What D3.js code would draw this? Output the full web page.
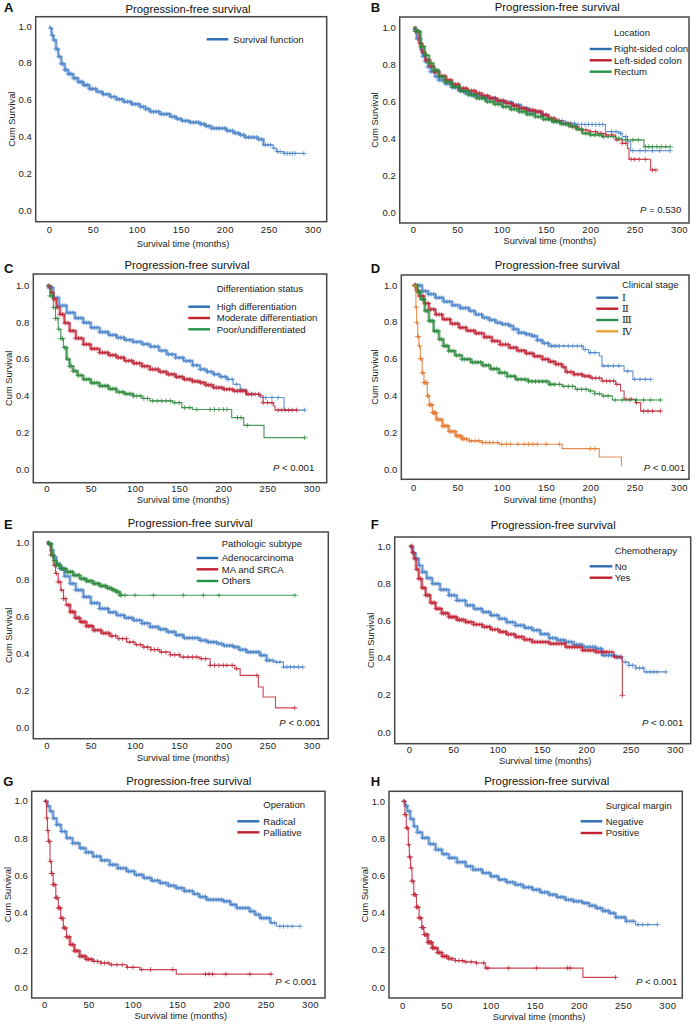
<!DOCTYPE html>
<html><head><meta charset="utf-8">
<script src="https://cdn.jsdelivr.net/npm/d3@7"></script>
<style>
body{margin:0;background:#fff}
svg{display:block;font-family:"Liberation Sans",Arial,sans-serif}
</style>
</head><body>
<svg id="c" width="698" height="1024"></svg>
<script>
// ---------- tick labels ----------
const xTicks = [0, 50, 100, 150, 200, 250, 300];
const yTicks = [0, 0.2, 0.4, 0.6, 0.8, 1.0];
const panelTitle = "Progression-free survival";
const xTitle = "Survival time (months)";
const yTitle = "Cum Survival";

// Each curve: step knots [month, survival]; *_c = censor-mark months that are
// individually visible; *_band = month range where censor marks are too dense to separate.

// ---------- A ----------
const A_all = [[0,1],[1,0.987],[3,0.95],[5,0.924],[8,0.875],[10.6,0.834],[14,0.795],[18,0.762],[22,0.74],[27.7,0.717],[33,0.697],[39,0.68],[46,0.66],[54,0.644],[61,0.63],[69,0.617],[77,0.603],[84.6,0.59],[94,0.577],[103.5,0.563],[110,0.55],[115,0.536],[126,0.523],[137.6,0.509],[145,0.497],[151,0.487],[160,0.478],[172,0.469],[178,0.458],[185,0.446],[202,0.433],[210,0.42],[217,0.41],[223,0.397],[238,0.386],[244,0.356],[255,0.338],[259,0.32],[267,0.31],[290,0.31]];
const A_all_c = [2,4,6,8,10,12,14,16,18,20,22,24,26,28,30,32,34,36,38,40,42,44,46,48,50,53,56,59,62,65,68,71,74,77,80,83,86,89,92,95,98,101,104,107,110,113,116,119,122,125,128,131,134,137,140,143,146,149,152,155,158,161,164,167,170,173,176,179,182,185,188,191,194,197,200,203,206,209,212,215,218,221,224,227,230,233,236,239,242,246,249,252,256,260,263,268,271,274,277,280,290];
const A_all_band = [1, 245];

// ---------- B: Location ----------
const B_right = [[0,1],[1,0.99],[4,0.94],[8.6,0.879],[11,0.845],[14,0.816],[17,0.787],[20,0.761],[25,0.735],[29,0.716],[36,0.695],[44,0.676],[51,0.66],[59,0.644],[68,0.63],[78,0.617],[93,0.603],[102,0.595],[112,0.581],[122,0.563],[131,0.545],[146,0.526],[152,0.51],[157,0.495],[172,0.481],[183,0.475],[214,0.475],[217,0.436],[232,0.427],[236,0.409],[242,0.382],[245.5,0.333],[290,0.333]];
const B_left = [[0,1],[3,0.98],[6.8,0.915],[10,0.865],[14,0.825],[19,0.79],[24,0.761],[30,0.737],[37,0.716],[44,0.693],[52,0.671],[61,0.657],[71,0.644],[78,0.63],[86,0.617],[95,0.603],[104.5,0.59],[112,0.576],[119.5,0.562],[128,0.553],[138,0.544],[145,0.527],[153,0.508],[160,0.495],[168,0.481],[178,0.462],[187,0.445],[198.5,0.436],[208,0.427],[217,0.418],[228.6,0.391],[236,0.373],[242,0.345],[243.6,0.286],[267,0.286],[268,0.228],[274,0.228]];
const B_rect = [[0,1],[3,0.98],[8.6,0.897],[13,0.85],[18,0.807],[23,0.77],[29,0.734],[36,0.705],[44,0.68],[53,0.656],[63,0.635],[72,0.617],[82,0.599],[91,0.585],[100.8,0.571],[110,0.557],[119.5,0.544],[128,0.53],[138,0.517],[147,0.503],[157,0.49],[166,0.478],[176,0.467],[184,0.45],[191,0.427],[200,0.418],[213.5,0.409],[228.6,0.4],[236,0.391],[260.5,0.354],[290,0.354]];
const B_right_c = [2,5,8,11,14,17,20,23,26,29,32,35,38,41,44,47,50,53,56,59,62,65,68,71,74,77,80,83,86,89,92,95,98,101,104,107,110,113,116,119,122,125,128,131,134,137,140,143,146,150,154,158,163,168,173,178,182,186,190,194,198,202,206,210,214,224,229,234,240,248,256,262,270,278,290];
const B_left_c = [3,6,9,12,15,18,21,24,27,30,33,36,39,42,45,48,51,54,57,60,63,66,69,72,75,78,81,84,87,90,93,96,99,102,105,108,111,114,117,120,123,126,129,132,135,138,141,144,147,150,153,156,159,162,165,170,175,180,185,190,195,200,206,212,218,224,230,236,240,246,250,255,262,270,274];
const B_rect_c = [3,6,9,12,15,18,21,24,27,30,33,36,39,42,45,48,51,54,57,60,63,66,69,72,75,78,81,84,87,90,93,96,99,102,105,108,111,114,117,120,123,126,129,132,135,138,141,144,147,150,153,156,159,162,165,168,172,176,180,185,190,195,200,205,210,215,220,226,232,240,248,254,262,266,270,275,280,285,290];
const B_right_band = [1, 150], B_left_band = [1, 165], B_rect_band = [1, 215];

// ---------- C: Differentiation ----------
const C_high = [[0,1],[2,0.987],[7.5,0.933],[14,0.89],[22.6,0.851],[32,0.822],[41.5,0.797],[50,0.77],[60,0.746],[70,0.73],[79,0.716],[88,0.703],[98,0.692],[108,0.68],[117,0.667],[127,0.645],[136,0.625],[146,0.607],[155,0.589],[165,0.565],[173.6,0.543],[181,0.53],[188.7,0.516],[196,0.503],[204,0.489],[211,0.462],[219,0.435],[226,0.408],[241.5,0.39],[268.7,0.322],[292,0.322]];
const C_mod = [[0,1],[2,0.996],[4.5,0.96],[7.5,0.924],[11,0.88],[15,0.842],[20,0.795],[26,0.752],[33,0.712],[41.5,0.679],[50,0.655],[60,0.634],[70,0.62],[79,0.607],[88,0.59],[98,0.576],[108,0.56],[117,0.543],[127,0.53],[136,0.516],[146,0.502],[155,0.489],[165,0.478],[173.6,0.471],[180,0.458],[188.7,0.444],[200,0.435],[211,0.426],[226,0.408],[241.5,0.399],[245,0.362],[256.6,0.344],[258.5,0.322],[283,0.322]];
const C_poor = [[0,1],[3.8,0.942],[7.5,0.879],[10,0.82],[13,0.761],[16,0.71],[19,0.661],[22.6,0.598],[26,0.56],[30,0.534],[35,0.51],[41.5,0.489],[50,0.47],[60,0.453],[70,0.437],[79,0.42],[88,0.41],[98,0.399],[108,0.385],[117,0.372],[143,0.362],[153,0.335],[165,0.325],[209.4,0.281],[223,0.239],[246,0.172],[292,0.172]];
const C_high_c = [3,6,9,12,15,18,21,24,27,30,33,36,39,42,45,48,51,54,57,60,63,66,69,72,75,78,81,84,87,90,94,98,102,106,110,114,118,122,126,130,134,138,142,146,150,154,158,162,166,170,174,178,182,186,190,194,198,202,206,210,215,220,232,240,248,255,262,292];
const C_mod_c = [3,6,9,12,15,18,21,24,27,30,33,36,39,42,45,48,51,54,57,60,63,66,69,72,75,78,81,84,87,90,93,96,99,102,105,108,111,114,117,120,123,126,129,132,135,138,141,144,147,150,153,156,159,162,165,168,171,174,177,180,183,186,189,192,195,198,201,204,207,210,213,216,219,222,225,228,232,236,240,245,250,255,262,266,270,274,278,283];
const C_poor_c = [4,6,8,10,12,14,16,18,20,22,24,26,28,30,33,36,39,42,45,48,51,54,57,60,63,66,69,72,75,78,82,86,90,94,98,102,106,110,114,120,125,130,135,140,145,150,156,162,170,185,190,195,200,204,216,220,227,292];
const C_high_band = [1, 205], C_mod_band = [1, 235], C_poor_band = [20, 100];

// ---------- D: Clinical stage ----------
const D_s1 = [[0,1],[1,0.998],[10,0.967],[17,0.95],[25,0.931],[34,0.91],[44,0.89],[53,0.875],[63,0.859],[70,0.84],[78,0.823],[86,0.81],[93,0.796],[100,0.787],[108,0.778],[113,0.76],[119,0.741],[127,0.732],[134,0.723],[140,0.7],[146,0.684],[153,0.669],[187,0.669],[192,0.65],[198,0.633],[210,0.615],[213,0.561],[238,0.533],[248,0.488],[268,0.488]];
const D_s2 = [[0,1],[1,1],[3,0.97],[6.4,0.94],[12,0.9],[17.7,0.868],[25,0.84],[33,0.814],[42,0.79],[51.6,0.769],[60,0.752],[70,0.738],[80,0.717],[89,0.696],[98,0.677],[108,0.66],[117,0.644],[127,0.629],[136,0.613],[146,0.597],[153,0.584],[160.7,0.57],[168,0.555],[172,0.528],[181,0.515],[191,0.506],[200,0.495],[213,0.479],[228.5,0.461],[234,0.425],[238,0.38],[251,0.362],[256.7,0.316],[279,0.316]];
const D_s3 = [[0,1],[2,0.995],[5,0.96],[8.3,0.922],[13,0.86],[17.7,0.805],[23,0.75],[29,0.705],[34,0.67],[40,0.642],[47,0.618],[55,0.597],[65,0.58],[78,0.564],[87,0.545],[97,0.524],[106,0.505],[115.5,0.488],[130,0.477],[153,0.461],[168,0.45],[183,0.434],[198,0.425],[205,0.41],[213,0.398],[224.7,0.376],[279,0.376]];
const D_s4 = [[0,1],[2,0.995],[3,0.88],[3.8,0.796],[5,0.72],[6.4,0.669],[8,0.6],[10,0.524],[12,0.47],[15.8,0.398],[18,0.35],[21.5,0.307],[26,0.27],[33,0.235],[40,0.205],[48,0.181],[55,0.165],[63,0.154],[78,0.145],[97,0.136],[168,0.112],[210,0.067],[235,0.018]];
const D_s1_c = [2,5,8,11,14,17,20,23,26,29,32,35,38,41,44,47,50,53,56,59,62,65,68,71,74,77,80,83,86,89,92,95,98,101,104,107,110,113,116,119,122,125,128,131,134,137,140,144,148,152,156,160,165,170,175,180,185,190,194,200,205,215,220,226,232,242,250,256,262,268];
const D_s2_c = [2,5,8,11,14,17,20,23,26,29,32,35,38,41,44,47,50,53,56,59,62,65,68,71,74,77,80,83,86,89,92,95,98,101,104,107,110,113,116,119,122,125,128,131,134,137,140,143,146,149,152,155,158,161,164,167,170,174,178,182,186,190,194,198,202,206,210,214,218,222,226,230,240,246,252,260,265,270,279];
const D_s3_c = [2,4,6,8,10,12,14,16,18,20,22,24,26,28,30,32,34,36,38,40,43,46,49,52,55,58,61,64,67,70,73,76,79,82,85,88,91,94,97,100,103,106,110,114,118,122,126,130,134,138,142,146,150,155,160,165,170,175,180,185,190,195,200,205,210,215,220,228,236,244,252,260,268,279];
const D_s4_c = [2,3,4,5,6,7,8,9,10,11,12,13,14,15,16,17,18,19,20,21,22,23,24,25,27,29,31,33,35,37,39,41,43,45,47,49,51,53,55,57,60,63,66,70,74,78,82,86,90,95,100,105,110,118,125,130,135,140,150,165,200,205];
const D_s1_band = [1, 165], D_s2_band = [1, 200], D_s3_band = [1, 160], D_s4_band = [22, 60];

// ---------- E: Pathologic subtype ----------
const E_adeno = [[0,1],[2,0.99],[4.5,0.955],[7.5,0.919],[11,0.885],[15,0.856],[20,0.815],[26.4,0.775],[33,0.74],[41.5,0.703],[50,0.67],[60,0.64],[70,0.62],[79,0.604],[88,0.59],[98,0.577],[108,0.56],[117,0.541],[127,0.528],[136,0.514],[146,0.497],[155,0.481],[173.6,0.468],[182,0.459],[192.5,0.45],[200,0.44],[211,0.432],[218,0.418],[226,0.405],[241.5,0.387],[249,0.36],[256.6,0.351],[268,0.324],[290.6,0.324]];
const E_ma = [[0,1],[2,0.99],[4.5,0.93],[7.5,0.874],[10,0.83],[13,0.784],[16,0.74],[19,0.694],[22,0.66],[26.4,0.622],[32,0.59],[37.7,0.568],[45,0.545],[52.8,0.523],[62,0.507],[71.7,0.492],[80,0.478],[90.6,0.459],[100,0.445],[109,0.432],[118,0.418],[128,0.405],[140,0.39],[151,0.378],[173.6,0.369],[185,0.333],[213,0.315],[219,0.279],[239.6,0.216],[245,0.162],[259,0.103],[281,0.103]];
const E_oth = [[0,1],[2,0.99],[5.7,0.928],[8,0.9],[11,0.874],[16,0.855],[22.6,0.838],[30,0.82],[37.7,0.802],[45,0.789],[52.8,0.775],[60,0.763],[68,0.751],[74,0.74],[79,0.73],[83,0.712],[281,0.712]];
const E_adeno_c = [3,6,9,12,15,18,21,24,27,30,33,36,39,42,45,48,51,54,57,60,63,66,69,72,75,78,81,84,87,90,93,96,99,102,105,108,111,114,117,120,123,126,129,132,135,138,141,144,147,150,153,156,159,162,165,168,171,174,177,180,183,186,189,192,195,198,201,204,207,210,213,216,219,222,225,228,231,234,237,240,243,246,249,252,256,260,264,268,272,276,280,285,290];
const E_ma_c = [3,5,7,9,11,13,15,17,19,21,23,25,27,29,31,33,35,37,39,41,43,45,47,49,51,53,55,58,61,64,67,70,74,78,82,86,90,94,98,102,106,110,114,118,122,126,130,135,140,145,150,155,160,165,170,175,180,185,190,195,200,204,210,215,238,281];
const E_oth_c = [3,5,7,9,11,13,15,17,19,21,23,25,27,29,31,33,35,37,39,41,43,45,47,49,51,53,55,57,59,61,63,65,67,69,71,73,75,77,79,81,83,85,88.7,100,120.8,154.7,177.4,195,281];
const E_adeno_band = [1, 255], E_ma_band = [25, 75], E_oth_band = [1, 84];

// ---------- F: Chemotherapy ----------
const F_no = [[0,1],[2,0.995],[4.5,0.96],[7.5,0.932],[11,0.895],[15,0.86],[20,0.827],[26.3,0.797],[35,0.765],[45,0.735],[54,0.707],[64,0.681],[73,0.662],[82.7,0.645],[92,0.627],[101.5,0.609],[110,0.59],[120,0.573],[130,0.56],[139,0.547],[148,0.526],[158,0.505],[167,0.494],[176.7,0.484],[186,0.47],[195.5,0.457],[210.5,0.448],[218,0.412],[233,0.403],[240.6,0.376],[248,0.358],[255.6,0.344],[265,0.323],[289.5,0.323]];
const F_yes = [[0,1],[2,1],[3.5,0.965],[5.6,0.932],[8,0.875],[11,0.824],[14.5,0.775],[18.8,0.735],[24,0.695],[30,0.663],[37,0.638],[45,0.618],[54,0.603],[64,0.591],[73,0.578],[82.7,0.565],[92,0.551],[101.5,0.538],[110,0.525],[120,0.511],[130,0.497],[139,0.484],[158,0.475],[176.7,0.457],[195.5,0.439],[210.5,0.43],[231,0.403],[240,0.394],[240.6,0.197]];
const F_no_c = [3,6,9,12,15,18,21,24,27,30,33,36,39,42,45,48,51,54,57,60,63,66,69,72,75,78,81,84,87,90,93,96,99,102,105,108,111,114,117,120,123,126,129,132,135,138,141,144,147,150,153,156,159,162,165,168,171,174,177,180,183,186,189,192,195,198,201,204,207,210,213,216,219,222,225,228,231,234,237,240,244,248,252,256,260,264,268,272,276,280,289.5];
const F_yes_c = [3,5,7,9,11,13,15,17,19,21,23,25,27,29,31,33,35,37,39,41,43,45,47,49,51,53,55,57,59,61,64,67,70,73,76,79,82,85,88,91,94,97,100,103,106,109,112,115,118,121,124,127,130,133,136,139,142,145,148,151,154,157,160,163,166,169,172,175,178,181,184,187,190,193,196,199,202,205,208,211,214,217,220,223,226,229,232,235,238,240.6];
const F_no_band = [1, 240], F_yes_band = [1, 225];

// ---------- G: Operation ----------
const G_rad = [[0,1],[1,0.996],[3.5,0.97],[6.4,0.943],[10,0.905],[14,0.871],[19,0.835],[25,0.8],[32,0.772],[40,0.746],[47,0.723],[55,0.702],[64,0.68],[74,0.657],[83,0.638],[93,0.621],[102,0.603],[112,0.586],[121,0.572],[130.6,0.559],[140,0.545],[149,0.532],[158,0.516],[168,0.5],[175,0.485],[183,0.47],[202,0.461],[210,0.443],[217,0.425],[232,0.407],[238,0.39],[243.5,0.371],[255,0.345],[262,0.327],[288.7,0.327]];
const G_pal = [[0,1],[1,0.996],[2.6,0.907],[3.5,0.84],[4.5,0.782],[6.4,0.675],[8,0.61],[10,0.55],[13,0.48],[15.8,0.425],[18.5,0.37],[21.5,0.318],[25,0.27],[29,0.229],[34,0.195],[40,0.166],[47,0.15],[55,0.139],[64,0.13],[74,0.121],[93,0.107],[108,0.095],[149,0.071],[256.7,0.071]];
const G_rad_c = [2,5,8,11,14,17,20,23,26,29,32,35,38,41,44,47,50,53,56,59,62,65,68,71,74,77,80,83,86,89,92,95,98,101,104,107,110,113,116,119,122,125,128,131,134,137,140,143,146,149,152,155,158,161,164,167,170,173,176,179,182,185,188,191,194,197,200,203,206,209,212,215,218,221,224,227,230,233,236,239,242,245,248,251,254,257,260,266,270,275,280,288.7];
const G_pal_c = [2,3,4,5,6,7,8,9,10,11,12,13,14,15,16,17,18,19,20,21,22,23,24,25,26,28,30,32,34,36,38,40,42,44,46,48,50,53,56,60,64,68,72,76,82,88,94,100,110,120,145,182,186,190,205,232,256];
const G_rad_band = [1, 255], G_pal_band = [28, 55];

// ---------- H: Surgical margin ----------
const H_neg = [[0,1],[1,1],[3,0.975],[5.7,0.946],[9,0.905],[13,0.865],[17,0.833],[22.6,0.803],[30,0.77],[37.7,0.74],[45,0.716],[52.8,0.695],[62,0.672],[71.7,0.65],[80,0.632],[90.6,0.614],[100,0.596],[109,0.578],[118,0.564],[128,0.551],[137,0.537],[147,0.524],[156,0.51],[166,0.497],[175,0.484],[185,0.47],[194,0.461],[204,0.452],[212,0.438],[219,0.425],[227,0.41],[234,0.398],[241.5,0.375],[253,0.354],[264,0.336],[288.7,0.336]];
const H_pos = [[0,1],[2,1],[3,0.928],[4.5,0.856],[6.8,0.767],[8,0.7],[9.4,0.641],[11,0.57],[13,0.497],[16,0.43],[19,0.372],[22,0.32],[24.5,0.282],[29,0.24],[34,0.21],[40,0.185],[45,0.165],[52,0.152],[60,0.142],[70,0.135],[83,0.129],[94,0.102],[204.5,0.052],[241.5,0.052]];
const H_neg_c = [2,5,8,11,14,17,20,23,26,29,32,35,38,41,44,47,50,53,56,59,62,65,68,71,74,77,80,83,86,89,92,95,98,101,104,107,110,113,116,119,122,125,128,131,134,137,140,143,146,149,152,155,158,161,164,167,170,173,176,179,182,185,188,191,194,197,200,203,206,209,212,215,218,221,224,227,230,233,236,239,242,245,248,251,254,257,260,262,267,272,278,288.7];
const H_pos_c = [2,3,4,5,6,7,8,9,10,11,12,13,14,15,16,17,18,19,20,21,22,23,24,25,26,27,28,29,30,31,32,33,34,35,36,38,40,42,44,46,48,50,53,56,60,64,68,72,78,84,92,95,97,120,152,187,190,241.5];
const H_neg_band = [1, 255], H_pos_band = [28, 58];

// ---------- colours ----------
const curveCol = {blue:"#4d85cb", red:"#c2283a", green:"#2e8a3d", orange:"#e27b34"};
const legendCol = {blue:"#2c6cb0", red:"#c11f2e", green:"#27914a", orange:"#eba13a"};

// ---------- panels (pixel layout kept apart from the data) ----------
const panels = [
 {id:"A", box:[35.7,16.7,326.7,221.7], xr:[49,312.7], yr:[210.7,26], tickBase:233.3, title:[188,13], letter:[4,12.3], ylab:12.2, xlab:[183,246.7],
  legTitle:null, leg:{x1:206.7,x2:228.3,tx:233.3,ty:null,rows:[39.3]},
  series:[{name:"Survival function",col:"blue",d:A_all,c:A_all_c,b:A_all_band}], p:null},
 {id:"B", box:[399.7,17,689,223], xr:[413,679], yr:[212,27.7], tickBase:233, title:[557.3,10.7], letter:[370.7,11.7], ylab:375, xlab:[549.8,244.2],
  legTitle:"Location", leg:{x1:589.7,x2:611.7,tx:614,ty:35.7,rows:[49,60.3,71.7]},
  series:[{name:"Right-sided colon",col:"blue",d:B_right,c:B_right_c,b:B_right_band},{name:"Left-sided colon",col:"red",d:B_left,c:B_left_c,b:B_left_band},{name:"Rectum",col:"green",d:B_rect,c:B_rect_c,b:B_rect_band}],
  p:{op:" = 0.530", x:681.3, y:213.3}},
 {id:"C", box:[33.3,274,326.7,482.7], xr:[46.7,311.7], yr:[469.3,285.3], tickBase:491.5, title:[187,268.7], letter:[4,272.7], ylab:9, xlab:[183,503],
  legTitle:"Differentiation status", leg:{x1:188.3,x2:210,tx:216.7,ty:292,rows:[306.7,318,329.3]},
  series:[{name:"High differentiation",col:"blue",d:C_high,c:C_high_c,b:C_high_band},{name:"Moderate differentiation",col:"red",d:C_mod,c:C_mod_c,b:C_mod_band},{name:"Poor/undifferentiated",col:"green",d:C_poor,c:C_poor_c,b:C_poor_band}],
  p:{op:" < 0.001", x:314.3, y:471}},
 {id:"D", box:[401.3,275,689,479.3], xr:[413.3,679], yr:[469.3,285], tickBase:491, title:[557.3,269.3], letter:[370.7,272.7], ylab:375, xlab:[549.8,503],
  legTitle:"Clinical stage", leg:{x1:596.3,x2:618.3,tx:622,ty:288.3,rows:[297.7,308.7,320,331.3]}, roman:true,
  series:[{name:"Ⅰ",col:"blue",d:D_s1,c:D_s1_c,b:D_s1_band},{name:"Ⅱ",col:"red",d:D_s2,c:D_s2_c,b:D_s2_band},{name:"Ⅲ",col:"green",d:D_s3,c:D_s3_c,b:D_s3_band},{name:"Ⅳ",col:"orange",d:D_s4,c:D_s4_c,b:D_s4_band}],
  p:{op:" < 0.001", x:685, y:471}},
 {id:"E", box:[33.3,532,328.3,738.7], xr:[46.7,311.7], yr:[727,542], tickBase:748.7, title:[190.3,527], letter:[4,528.7], ylab:9, xlab:[183,760.5],
  legTitle:"Pathologic subtype", leg:{x1:196.7,x2:218.3,tx:221.7,ty:547,rows:[558,569.3,581]},
  series:[{name:"Adenocarcinoma",col:"blue",d:E_adeno,c:E_adeno_c,b:E_adeno_band},{name:"MA and SRCA",col:"red",d:E_ma,c:E_ma_c,b:E_ma_band},{name:"Others",col:"green",d:E_oth,c:E_oth_c,b:E_oth_band}],
  p:{op:" < 0.001", x:320.7, y:726.3}},
 {id:"F", box:[394.7,537,690.7,743.7], xr:[409,675], yr:[732,546], tickBase:753, title:[553.2,529.3], letter:[370.7,528.7], ylab:370.5, xlab:[545.2,764],
  legTitle:"Chemotherapy", leg:{x1:589.7,x2:612.3,tx:614.7,ty:553.7,rows:[566.3,577.7]},
  series:[{name:"No",col:"blue",d:F_no,c:F_no_c,b:F_no_band},{name:"Yes",col:"red",d:F_yes,c:F_yes_c,b:F_yes_band}],
  p:{op:" < 0.001", x:683.3, y:726}},
 {id:"G", box:[31.7,791.3,325,998], xr:[44.3,310], yr:[987.3,800.7], tickBase:1008.2, title:[188.8,785.3], letter:[3.3,786.3], ylab:8, xlab:[180.8,1019.3],
  legTitle:"Operation", leg:{x1:237.3,x2:259.3,tx:263.3,ty:808,rows:[821.3,832.3]},
  series:[{name:"Radical",col:"blue",d:G_rad,c:G_rad_c,b:G_rad_band},{name:"Palliative",col:"red",d:G_pal,c:G_pal_c,b:G_pal_band}],
  p:{op:" < 0.001", x:316.7, y:984.7}},
 {id:"H", box:[389,791.3,682.3,998], xr:[402.3,667.3], yr:[987,801.3], tickBase:1008.5, title:[546.8,785.3], letter:[370.7,786.3], ylab:364.5, xlab:[539,1019.5],
  legTitle:"Surgical margin", leg:{x1:580.7,x2:602.3,tx:605.7,ty:808.7,rows:[821.3,833]},
  series:[{name:"Negative",col:"blue",d:H_neg,c:H_neg_c,b:H_neg_band},{name:"Positive",col:"red",d:H_pos,c:H_pos_c,b:H_pos_band}],
  p:{op:" < 0.001", x:677.3, y:984.7}}
];

const svg = d3.select("#c");
const TXT = "#222";
const TICK_FS = 9.5;

// value of a step curve at month t
const bis = d3.bisector(d => d[0]).right;
const stepAt = (knots, t) => knots[Math.max(0, bis(knots, t) - 1)][1];
// part of the step curve between months t0 and t1
const slice = (knots, t0, t1) => {
  const inner = knots.filter(k => k[0] > t0 && k[0] <= t1);
  return [[t0, stepAt(knots, t0)], ...inner, [t1, stepAt(knots, t1)]];
};

panels.forEach(P => {
  const g = svg.append("g");
  const [bx0, by0, bx1, by1] = P.box;
  const x = d3.scaleLinear().domain([0, 300]).range(P.xr);
  const y = d3.scaleLinear().domain([0, 1]).range(P.yr);

  const clipId = "clip" + P.id;
  g.append("clipPath").attr("id", clipId).append("rect")
    .attr("x", bx0).attr("y", by0).attr("width", bx1 - bx0).attr("height", by1 - by0);

  const line = d3.line().curve(d3.curveStepAfter).x(d => x(d[0])).y(d => y(d[1]));
  const plot = g.append("g").attr("clip-path", `url(#${clipId})`);
  P.series.forEach(s => {
    const col = curveCol[s.col];
    // dense-censoring band
    plot.append("path").attr("d", line(slice(s.d, s.b[0], s.b[1]))).attr("fill", "none")
      .attr("stroke", col).attr("stroke-width", 3.2).attr("stroke-opacity", 0.5)
      .attr("stroke-linejoin", "round");
    plot.append("path").attr("d", line(s.d)).attr("fill", "none")
      .attr("stroke", col).attr("stroke-width", 1.15).attr("stroke-opacity", 0.85);
    plot.append("g").selectAll("path").data(s.c).join("path")
      .attr("transform", t => `translate(${x(t)},${y(stepAt(s.d, t))})`)
      .attr("d", "M-2.8,0H2.8M0,-2.4V2.4")
      .attr("stroke", col).attr("stroke-width", 1).attr("stroke-opacity", 0.75).attr("fill", "none");
  });

  // frame
  g.append("rect").attr("x", bx0).attr("y", by0).attr("width", bx1 - bx0).attr("height", by1 - by0)
    .attr("fill", "none").attr("stroke", "#474747").attr("stroke-width", 1.5);

  // axes (labels only, as in the reference)
  const xa = g.append("g").attr("transform", `translate(0,${by1})`)
    .call(d3.axisBottom(x).tickValues(xTicks).tickSize(0)
      .tickPadding(P.tickBase - by1 - 0.71 * TICK_FS));
  xa.select(".domain").remove();
  xa.selectAll("text").attr("font-size", TICK_FS).attr("letter-spacing", 0.4)
    .attr("fill", TXT).attr("font-family", "Liberation Sans, Arial, sans-serif");
  const ya = g.append("g").attr("transform", `translate(${bx0},0)`)
    .call(d3.axisLeft(y).tickValues(yTicks).tickSize(0).tickPadding(4).tickFormat(d3.format(".1f")));
  ya.select(".domain").remove();
  ya.selectAll("text").attr("font-size", TICK_FS)
    .attr("fill", TXT).attr("font-family", "Liberation Sans, Arial, sans-serif");

  // titles
  g.append("text").attr("x", P.title[0]).attr("y", P.title[1]).attr("text-anchor", "middle")
    .attr("font-size", 11.3).attr("fill", "#111").text(panelTitle);
  g.append("text").attr("x", P.letter[0]).attr("y", P.letter[1])
    .attr("font-size", 13).attr("font-weight", "bold").attr("fill", "#111").text(P.id);
  g.append("text").attr("x", P.xlab[0]).attr("y", P.xlab[1]).attr("text-anchor", "middle")
    .attr("font-size", 9.3).attr("fill", TXT).text(xTitle);
  g.append("text").attr("transform", `translate(${P.ylab},${(by0 + by1) / 2}) rotate(-90)`)
    .attr("text-anchor", "middle").attr("dy", "0.35em")
    .attr("font-size", 9.3).attr("fill", TXT).text(yTitle);

  // legend
  const L = P.leg;
  if (P.legTitle) {
    g.append("text").attr("x", L.tx).attr("y", L.ty).attr("font-size", 9.5).attr("fill", TXT).text(P.legTitle);
  }
  P.series.forEach((s, i) => {
    const ry = L.rows[i];
    g.append("line").attr("x1", L.x1).attr("x2", L.x2).attr("y1", ry).attr("y2", ry)
      .attr("stroke", legendCol[s.col]).attr("stroke-width", 2.4);
    g.append("text").attr("x", L.tx).attr("y", ry + 3.4)
      .attr("font-size", P.roman ? 10 : 9.6)
      .attr("font-family", P.roman ? "DejaVu Serif, Liberation Serif, serif" : null)
      .attr("fill", TXT).text(s.name);
  });

  // p value
  if (P.p) {
    const t = g.append("text").attr("x", P.p.x).attr("y", P.p.y).attr("text-anchor", "end")
      .attr("font-size", 9.6).attr("fill", TXT);
    t.append("tspan").attr("font-style", "italic").text("P");
    t.append("tspan").text(P.p.op);
  }
});
</script>
</body></html>
